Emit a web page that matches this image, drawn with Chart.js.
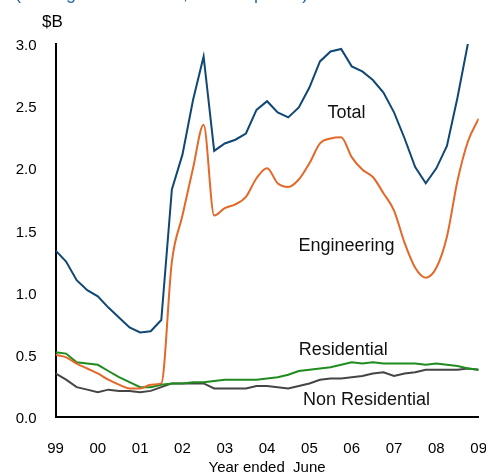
<!DOCTYPE html>
<html>
<head>
<meta charset="utf-8">
<script src="https://cdn.jsdelivr.net/npm/chart.js@4"></script>
<style>
  html, body { margin: 0; padding: 0; background: #fff; overflow: hidden; }
  #wrap { position: relative; width: 486px; height: 474px; overflow: hidden; }
  #c { position: absolute; left: 0; top: 0; }
  #unit { position: absolute; left: 42px; top: 12px; font: 17px "Liberation Sans", Arial, sans-serif; color: #000; }
  #sub { position: absolute; left: 15px; top: -15px; font: 18px "Liberation Sans", Arial, sans-serif; color: #2a6aa8; white-space: nowrap; line-height: 17px; }
</style>
</head>
<body>
<div id="wrap">
  <canvas id="c" width="510" height="475" style="width:510px;height:475px"></canvas>
  <div id="sub">(Rolling annual totals, current prices)</div>
  <div id="unit">$B</div>
</div>
<script>
// Quarterly observations, June 1999 (index 0) to June 2009 (index 40)
const yearLabels = ['99','00','01','02','03','04','05','06','07','08','09'];
const yTickValues = [0, 0.5, 1.0, 1.5, 2.0, 2.5, 3.0];

const total = [1.34,1.25,1.10,1.02,0.97,0.88,0.80,0.72,0.68,0.69,0.78,1.83,2.11,2.55,2.90,2.14,2.20,2.23,2.28,2.47,2.54,2.45,2.41,2.49,2.65,2.86,2.94,2.96,2.82,2.78,2.71,2.61,2.45,2.24,2.01,1.88,2.00,2.18,2.57,3.01,3.40];
const engineering = [0.50,0.48,0.43,0.39,0.35,0.30,0.26,0.23,0.23,0.26,0.27,1.25,1.62,2.00,2.35,1.62,1.68,1.71,1.77,1.92,2.00,1.88,1.85,1.91,2.04,2.20,2.24,2.25,2.09,1.99,1.93,1.80,1.66,1.40,1.20,1.12,1.20,1.45,1.90,2.22,2.40];
const residential = [0.52,0.51,0.44,0.43,0.42,0.37,0.32,0.28,0.24,0.24,0.26,0.27,0.27,0.28,0.28,0.29,0.30,0.30,0.30,0.30,0.31,0.32,0.34,0.37,0.38,0.39,0.40,0.42,0.44,0.43,0.44,0.43,0.43,0.43,0.43,0.42,0.43,0.42,0.41,0.39,0.38];
const nonResidential = [0.35,0.30,0.24,0.22,0.20,0.22,0.21,0.21,0.20,0.21,0.24,0.27,0.27,0.27,0.27,0.23,0.23,0.23,0.23,0.25,0.25,0.24,0.23,0.25,0.27,0.30,0.31,0.31,0.32,0.33,0.35,0.36,0.33,0.35,0.36,0.38,0.38,0.38,0.38,0.39,0.38];

const seriesNames = ['Total','Engineering','Residential','Non Residential'];
// label anchor in data units: [quarter index, value]
const labelAnchors = [[27.5, 2.445],[27.5, 1.375],[27.2, 0.54],[29.4, 0.135]];

const FONT = '"Liberation Sans", Arial, Helvetica, sans-serif';
const toXY = arr => arr.map((v, i) => ({x: i, y: v}));

const seriesLabels = {
  id: 'seriesLabels',
  afterDatasetsDraw(chart) {
    const {ctx, scales: {x, y}} = chart;
    ctx.save();
    ctx.font = '18px ' + FONT;
    ctx.fillStyle = '#111';
    ctx.textAlign = 'center';
    ctx.textBaseline = 'middle';
    seriesNames.forEach((n, i) => {
      ctx.fillText(n, x.getPixelForValue(labelAnchors[i][0]), y.getPixelForValue(labelAnchors[i][1]));
    });
    ctx.restore();
  }
};

new Chart(document.getElementById('c'), {
  type: 'line',
  data: {
    datasets: [
      {label: 'Total', data: toXY(total), borderColor: '#0f4775', borderWidth: 2, tension: 0},
      {label: 'Engineering', data: toXY(engineering), borderColor: '#e2692a', borderWidth: 2, cubicInterpolationMode: 'monotone'},
      {label: 'Residential', data: toXY(residential), borderColor: '#1f8c1f', borderWidth: 2, tension: 0},
      {label: 'Non Residential', data: toXY(nonResidential), borderColor: '#454545', borderWidth: 2, tension: 0}
    ]
  },
  options: {
    responsive: false,
    animation: false,
    layout: {padding: {left: 16, right: 14, top: 44, bottom: 0}},
    elements: {point: {radius: 0}},
    plugins: {legend: {display: false}, tooltip: {enabled: false}},
    scales: {
      x: {
        type: 'linear', min: 0, max: 40,
        grid: {display: false, drawTicks: false},
        border: {display: true, color: '#000', width: 2},
        afterFit: s => { s.height = 58; },
        ticks: {
          stepSize: 4, autoSkip: false, maxRotation: 0, padding: 23,
          color: '#000', font: {family: FONT, size: 15},
          callback: v => (v % 4 === 0 ? yearLabels[v / 4] : '')
        },
        title: {display: true, text: 'Year ended  June', color: '#000', font: {family: FONT, size: 15, lineHeight: 1.0}, padding: {top: 3, bottom: 0}}
      },
      y: {
        min: 0, max: 3,
        grid: {display: false, drawTicks: false},
        border: {display: true, color: '#000', width: 2},
        afterFit: s => { s.width = 39.5; },
        afterBuildTicks: s => { s.ticks = yTickValues.map(v => ({value: v})); },
        ticks: {padding: 19, labelOffset: 2, color: '#000', font: {family: FONT, size: 15}, callback: v => v.toFixed(1)}
      }
    }
  },
  plugins: [seriesLabels]
});
</script>
</body>
</html>
